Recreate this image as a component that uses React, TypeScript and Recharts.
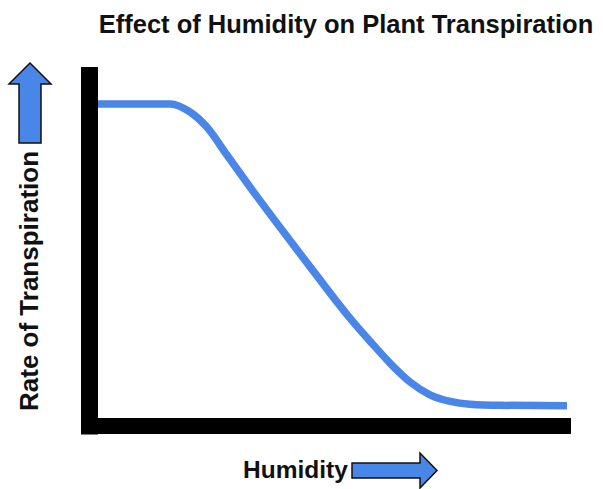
import { LineChart, Line, XAxis, YAxis, Customized } from "recharts";

// Qualitative curve: humidity (0-100) vs relative transpiration rate (0-100)
const humidity = [0, 11, 15.4, 19.6, 23.2, 27.5, 32.4, 40.9, 45.8, 53.1, 58.0, 62.3, 66.5, 70.8, 75.1, 79.3, 85.7, 100];
const transpiration = [91.9, 91.9, 91.9, 89.6, 85.3, 77.3, 68.2, 53.0, 44.4, 31.8, 24.2, 17.9, 12.6, 8.9, 7.0, 6.2, 5.9, 5.8];

const TITLE = "Effect of Humidity on Plant Transpiration";
const X_LABEL = "Humidity";
const Y_LABEL = "Rate of Transpiration";

const data = humidity.map((h, i) => ({ h, rate: transpiration[i] }));

const BLUE = "#4a86e8";
const FONT = "'Liberation Sans', Arial, sans-serif";

// Title, axis captions and the two blue direction arrows
function Decorations() {
  return (
    <g fontFamily={FONT} fontWeight="bold" fill="#111">
      <text x={346} y={33} fontSize={25.5} textAnchor="middle">
        {TITLE}
      </text>
      <text x={243} y={478} fontSize={24.5}>
        {X_LABEL}
      </text>
      <text
        x={0}
        y={0}
        fontSize={26}
        textAnchor="middle"
        transform="translate(38 281) rotate(-90)"
      >
        {Y_LABEL}
      </text>
      {/* up arrow */}
      <path
        d="M19 143 L19 84 L9 84 L30 63 L51 84 L41 84 L41 143 Z"
        fill={BLUE}
        stroke="#111"
        strokeWidth={1.5}
      />
      {/* right arrow */}
      <path
        d="M352 463 L420 463 L420 453 L437 470.5 L420 488 L420 478 L352 478 Z"
        fill={BLUE}
        stroke="#111"
        strokeWidth={1.5}
      />
    </g>
  );
}

export default function App() {
  return (
    <div style={{ position: "absolute", left: 0, top: 0, background: "#fff" }}>
      <LineChart
        width={603}
        height={489}
        data={data}
        margin={{ top: 75.5, right: 32, bottom: 62, left: 88.5 }}
      >
        <XAxis
          dataKey="h"
          type="number"
          domain={[0, 100]}
          padding={{ left: 8.5, right: 4 }}
          tick={false}
          tickLine={false}
          height={1}
          axisLine={{ stroke: "#000", strokeWidth: 16 }}
        />
        <YAxis
          type="number"
          domain={[0, 100]}
          tick={false}
          tickLine={false}
          width={1}
          axisLine={{ stroke: "#000", strokeWidth: 17, strokeLinecap: "square" }}
        />
        <Line
          type="monotone"
          dataKey="rate"
          stroke={BLUE}
          strokeWidth={7.5}
          dot={false}
          isAnimationActive={false}
        />
        <Customized component={Decorations} />
      </LineChart>
    </div>
  );
}
